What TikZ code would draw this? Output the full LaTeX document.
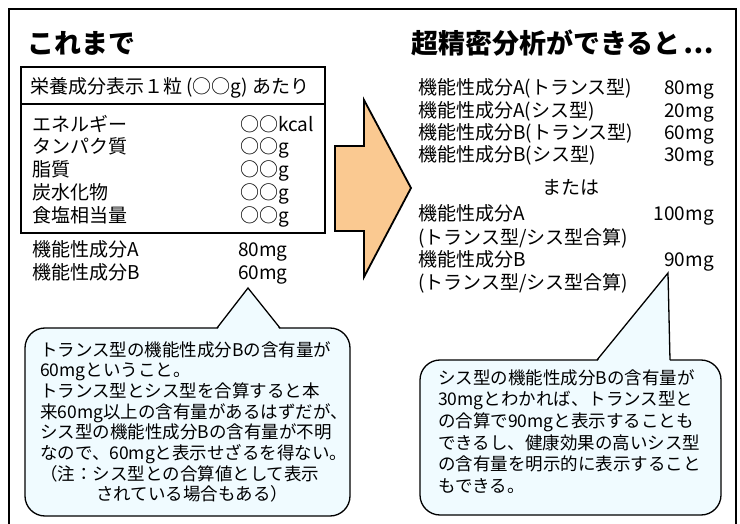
\documentclass[tikz,border=0pt]{standalone}
\usepackage{fontspec}
\setmainfont{Noto Sans CJK JP}
\definecolor{arrowpeach}{RGB}{250,201,145}
\definecolor{bubblecyan}{RGB}{240,251,255}

\begin{document}
\begin{tikzpicture}[x=1pt,y=-1pt]
	\tikzset{row/.style={font=\fontsize{19}{22}\selectfont, anchor=west, inner sep=0pt, text height=16.7pt, text depth=2.3pt},
		heading/.style={font=\fontsize{27}{30}\selectfont\bfseries, anchor=west, inner sep=0pt},
		boxline/.style={line width=1.3pt},
		bigarrow/.style={draw=black, line width=1.8pt, fill=arrowpeach, line join=miter},
		bubble/.style={draw=black, line width=1.3pt, fill=bubblecyan, rounded corners=20pt},
		bubbleline/.style={line width=1.3pt, line join=miter},
		bubbletext/.style={font=\fontsize{17.5}{20.7}\selectfont, align=left, anchor=north west, inner sep=0pt}}
	\useasboundingbox (0,0) rectangle (740,524);
	\draw [boxline] (9,524) -- (9,9) -- (736,9) -- (736,524);
	\node[heading] (past) at (27,43) {これまで};
	\node[heading] (future) at (411,43) {超精密分析ができると\hspace{0.1em}…};
	% nutrition label
	\draw [boxline] (21,67) rectangle (325,233);
	\draw [boxline] (21,104) -- (325,104);
	\node[row] (head) at (30,86) {栄養成分表示１粒 (○○g) あたり};
	\foreach \lbl/\val [count=\i] in {エネルギー/○○kcal, タンパク質/○○g, 脂質/○○g, 炭水化物/○○g, 食塩相当量/○○g}
	{
		\node[row] (n\i) at (32, 101.2+22.8*\i) {\lbl};
		\node[row] (v\i) at (240, 101.2+22.8*\i) {\val};
	}
	\node[row] (fa) at (32,249) {機能性成分A};
	\node[row] (fav) at (238,249) {80mg};
	\node[row] (fb) at (32,272) {機能性成分B};
	\node[row] (fbv) at (238,272) {60mg};
	% arrow
	\draw [bigarrow] (335,146) -- (364,146) -- (364,100) -- (411,188) -- (364,277) -- (364,231) -- (335,231) -- cycle;
	% detailed analysis
	\foreach \lbl/\val/\y [count=\i] in {機能性成分A(トランス型)/80mg/87, 機能性成分A(シス型)/20mg/110, 機能性成分B(トランス型)/60mg/132, 機能性成分B(シス型)/30mg/154}
	{
		\node[row] (s\i) at (418,\y) {\lbl};
		\node[row, anchor=east] (sv\i) at (714,\y) {\val};
	}
	\node[row, anchor=center] (or) at (571,187) {または};
	\node[row] (sa) at (418,213) {機能性成分A};
	\node[row, anchor=east] (sav) at (714,213) {100mg};
	\node[row] (sat) at (418,237) {(トランス型/シス型合算)};
	\node[row] (sb) at (418,259) {機能性成分B};
	\node[row, anchor=east] (sbv) at (714,259) {90mg};
	\node[row] (sbt) at (418,282) {(トランス型/シス型合算)};
	% callouts
	\coordinate (ltip) at (248,288);
	\draw [bubble] (25,328) rectangle (350,516);
	\fill [bubblecyan] (217,330) -- (ltip) -- (280,330) -- cycle;
	\draw [bubbleline] (217,328) -- (ltip) -- (280,328);
	\node[bubbletext] (lnote) at (40,341) {トランス型の機能性成分Bの含有量が\\60mgということ。\\トランス型とシス型を合算すると本\\来60mg以上の含有量があるはずだが、\\シス型の機能性成分Bの含有量が不明\\なので、60mgと表示せざるを得ない。\\（注：シス型との合算値として表示\\\hspace*{3.2em}されている場合もある）};
	\coordinate (rtip) at (668,273);
	\draw [bubble] (420,360) rectangle (721,515);
	\fill [bubblecyan] (597,362) -- (rtip) -- (670,362) -- cycle;
	\draw [bubbleline] (597,360) -- (rtip) -- (670,360);
	\node[bubbletext, font=\fontsize{17.5}{21.7}\selectfont] (rnote) at (438,369) {シス型の機能性成分Bの含有量が\\30mgとわかれば、トランス型と\\の合算で90mgと表示することも\\できるし、健康効果の高いシス型\\の含有量を明示的に表示すること\\もできる。};
\end{tikzpicture}
\end{document}
